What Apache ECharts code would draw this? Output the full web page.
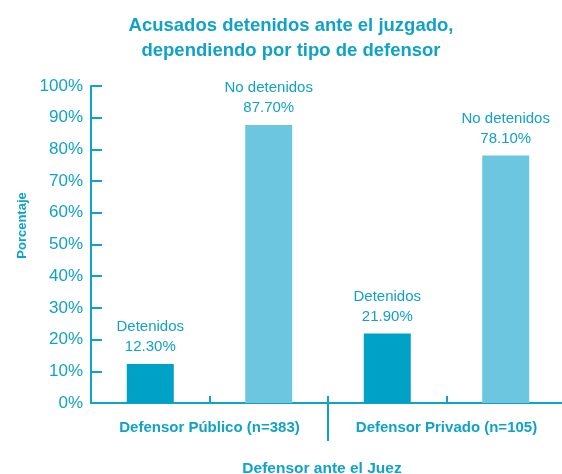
<!DOCTYPE html>
<html>
    <head>
        <title>Acusados detenidos ante el juzgado</title>
        <meta charset="utf-8">
        <script src="https://cdn.jsdelivr.net/npm/echarts@6/dist/echarts.min.js"></script>
        <style>
            html, body { margin: 0; padding: 0; background: #fff; }
        </style>
    </head>

    <body>
        <div id="chart" style="width:562px; height:474px;"></div>

        <script>
            // datos
            var categories = ['Defensor Público (n=383)', 'Defensor Privado (n=105)'];
            var detenidos = [12.3, 21.9];
            var noDetenidos = [87.7, 78.1];
            var seriesNames = ['Detenidos', 'No detenidos'];

            var teal = '#10a2c8';
            var font = 'Liberation Sans, Arial, sans-serif';

            var chart = echarts.init(document.getElementById('chart'), null, {renderer: 'canvas'});

            function barLabel(p) {
                return p.seriesName + '\n' + p.value.toFixed(2) + '%';
            }

            var option = {
                backgroundColor: '#fff',
                animation: false,
                title: {
                    text: 'Acusados detenidos ante el juzgado,\ndependiendo por tipo de defensor',
                    left: 286,
                    top: 8,
                    textAlign: 'center',
                    textStyle: {color: teal, fontSize: 18.5, fontWeight: 'bold', lineHeight: 25, fontFamily: font}
                },
                grid: {left: 91, right: -3, top: 86, bottom: 71, containLabel: false, outerBoundsMode: 'none'},
                xAxis: [
                    {
                        type: 'category',
                        data: categories,
                        name: 'Defensor ante el Juez',
                        nameLocation: 'middle',
                        nameGap: 58,
                        nameTextStyle: {color: teal, fontSize: 15.5, fontWeight: 'bold', fontFamily: font, padding: [0, 12, 0, 0]},
                        axisLine: {lineStyle: {color: teal, width: 2}},
                        axisTick: {show: false},
                        axisLabel: {color: teal, fontSize: 15, fontWeight: 'bold', margin: 17, interval: 0, hideOverlap: false, fontFamily: font}
                    },
                    {
                        // separador largo entre los dos grupos
                        type: 'value', min: 0, max: 2, position: 'bottom',
                        axisLine: {show: false}, axisLabel: {show: false}, splitLine: {show: false},
                        axisTick: {show: true, inside: false, length: 38, customValues: [1], lineStyle: {color: teal, width: 2}}
                    },
                    {
                        // marcas cortas interiores
                        type: 'value', min: 0, max: 2, position: 'bottom',
                        axisLine: {show: false}, axisLabel: {show: false}, splitLine: {show: false},
                        axisTick: {show: true, inside: true, length: 7, customValues: [0.5, 1, 1.5], lineStyle: {color: teal, width: 2}}
                    }
                ],
                yAxis: {
                    type: 'value',
                    min: 0,
                    max: 100,
                    interval: 10,
                    name: 'Porcentaje',
                    nameLocation: 'middle',
                    nameGap: 59,
                    nameTextStyle: {color: teal, fontSize: 13, fontWeight: 'bold', fontFamily: font, padding: [0, 0, 0, 38]},
                    axisLine: {show: true, lineStyle: {color: teal, width: 2}},
                    axisTick: {show: true, inside: true, length: 11, lineStyle: {color: teal, width: 2}},
                    splitLine: {show: false},
                    axisLabel: {color: teal, fontSize: 17, margin: 8, formatter: '{value}%', fontFamily: font}
                },
                series: [
                    {
                        name: seriesNames[0],
                        type: 'bar',
                        data: detenidos,
                        barWidth: 47,
                        barGap: '152%',
                        itemStyle: {color: '#00a1c6'},
                        label: {show: true, position: 'top', distance: 7, formatter: barLabel,
                            color: teal, fontSize: 15, lineHeight: 20, fontFamily: font}
                    },
                    {
                        name: seriesNames[1],
                        type: 'bar',
                        data: noDetenidos,
                        barWidth: 47,
                        itemStyle: {color: '#6dc6df'},
                        label: {show: true, position: 'top', distance: 7, formatter: barLabel,
                            color: teal, fontSize: 15, lineHeight: 20, fontFamily: font}
                    }
                ]
            };

            chart.setOption(option);
        </script>
    </body>
</html>
